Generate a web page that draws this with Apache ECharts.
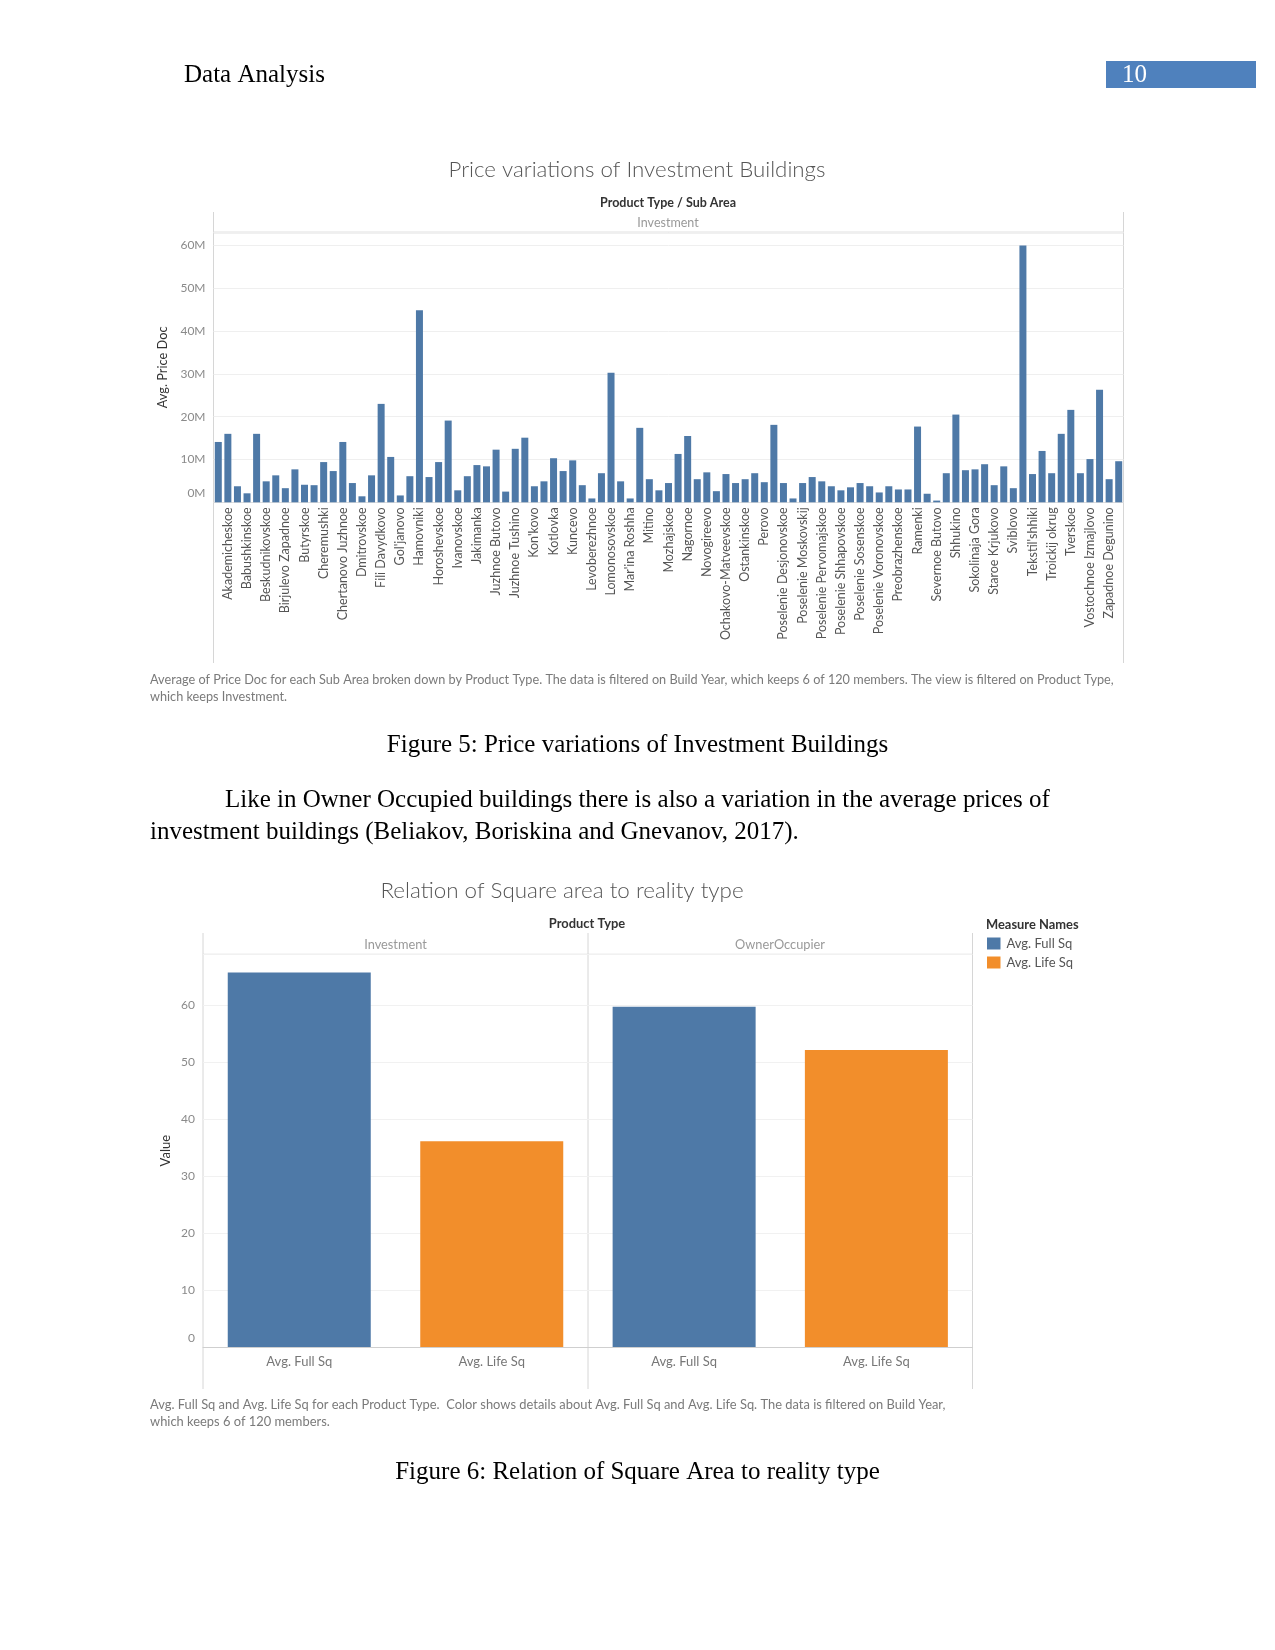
<!DOCTYPE html>
<html>
<head>
<meta charset="utf-8">
<script src="https://cdn.jsdelivr.net/npm/echarts@6/dist/echarts.min.js"></script>
<style>
html,body{margin:0;padding:0;background:#fff;}
#page{width:1275px;height:1650px;}
</style>
</head>
<body>
<div id="page"></div>
<script>
// ---------- Figure 5 data ----------
const subAreas = [
 "Ajeroport","Akademicheskoe","Alekseevskoe","Babushkinskoe","Basmannoe","Beskudnikovskoe","Bibirevo","Birjulevo Zapadnoe","Brateevo","Butyrskoe",
 "Caricyno","Cheremushki","Chertanovo Central'noe","Chertanovo Juzhnoe","Danilovskoe","Dmitrovskoe","Filevskij Park","Fili Davydkovo","Gagarinskoe","Gol'janovo",
 "Golovinskoe","Hamovniki","Horoshevo-Mnevniki","Horoshevskoe","Hovrino","Ivanovskoe","Izmajlovo","Jakimanka","Jasenevo","Juzhnoe Butovo",
 "Juzhnoe Medvedkovo","Juzhnoe Tushino","Kapotnja","Kon'kovo","Koptevo","Kotlovka","Krylatskoe","Kuncevo","Lefortovo","Levoberezhnoe",
 "Ljublino","Lomonosovskoe","Losinoostrovskoe","Mar'ina Roshha","Mar'ino","Mitino","Moskvorech'e-Saburovo","Mozhajskoe","Nagatinskij Zaton","Nagornoe",
 "Nekrasovka","Novogireevo","Obruchevskoe","Ochakovo-Matveevskoe","Orehovo-Borisovo Juzhnoe","Ostankinskoe","Otradnoe","Perovo","Pokrovskoe Streshnevo","Poselenie Desjonovskoe",
 "Poselenie Kokoshkino","Poselenie Moskovskij","Poselenie Novofedorovskoe","Poselenie Pervomajskoe","Poselenie Rjazanovskoe","Poselenie Shhapovskoe","Poselenie Shherbinka","Poselenie Sosenskoe","Poselenie Vnukovskoe","Poselenie Voronovskoe",
 "Poselenie Voskresenskoe","Preobrazhenskoe","Presnenskoe","Ramenki","Rjazanskij","Severnoe Butovo","Severnoe Izmajlovo","Shhukino","Sokol'niki","Sokolinaja Gora",
 "Solncevo","Staroe Krjukovo","Strogino","Sviblovo","Taganskoe","Tekstil'shhiki","Teplyj Stan","Troickij okrug","Troparevo-Nikulino","Tverskoe",
 "Veshnjaki","Vostochnoe Izmajlovo","Vyhino-Zhulebino","Zapadnoe Degunino","Zjablikovo"
];
// Avg. Price Doc, in millions
const avgPriceDocM = [
 14.1,16.0,3.75,2.1,16.0,4.9,6.3,3.3,7.7,4.1,
 4.0,9.4,7.3,14.1,4.5,1.4,6.3,23.0,10.6,1.6,
 6.1,44.9,5.9,9.4,19.1,2.8,6.1,8.7,8.4,12.3,
 2.5,12.5,15.1,3.75,4.9,10.3,7.3,9.8,4.0,0.9,
 6.8,30.3,4.9,0.9,17.4,5.4,2.8,4.5,11.3,15.5,
 5.4,7.0,2.6,6.6,4.5,5.4,6.8,4.7,18.1,4.5,
 0.9,4.5,5.9,4.9,3.75,2.8,3.5,4.5,3.75,2.3,
 3.75,3.0,3.0,17.7,2.0,0.4,6.8,20.5,7.5,7.7,
 8.9,4.0,8.4,3.3,60.0,6.6,12.0,6.8,16.0,21.6,
 6.8,10.1,26.3,5.4,9.6
];
const priceTicksM = [0,10,20,30,40,50,60];

// ---------- Figure 6 data ----------
const measureNames = ["Avg. Full Sq","Avg. Life Sq"];
const productTypes = ["Investment","OwnerOccupier"];
const investmentSq = [65.7, 36.1];
const ownerOccupierSq = [59.7, 52.1];
const measureColors = ["#4e79a7","#f28e2b"];

const chart = echarts.init(document.getElementById('page'), null, {renderer:'canvas', width:1275, height:1650});

const SANS = 'Lato, "Open Sans", sans-serif';
const SERIF = '"Liberation Serif", "Times New Roman", serif';

function txt(text, x, y, font, fill, align) {
  return {type:'text', silent:true, style:{text:text, x:x, y:y, font:font, fill:fill,
    textAlign:align||'left', align:align||'left', textVerticalAlign:'middle', verticalAlign:'middle'}};
}
function ln(x1,y1,x2,y2,color,w){
  return {type:'line', silent:true, shape:{x1:x1,y1:y1,x2:x2,y2:y2}, style:{stroke:color, lineWidth:w||1}};
}

const zeroRich = {
  z:{padding:[0,0,18,0], fontSize:12, color:'#8a8a8a', fontFamily:SANS},
  n:{fontSize:12, color:'#8a8a8a', fontFamily:SANS}
};

const graphics = [
  // page header
  txt('Data Analysis', 184, 75, '25px ' + SERIF, '#000'),
  {type:'rect', silent:true, shape:{x:1106, y:61, width:150, height:27}, style:{fill:'#4f81bd'}},
  txt('10', 1122, 75, '25px ' + SERIF, '#fff'),
  // figure 5 header
  txt('Price variations of Investment Buildings', 637, 170, '300 22.3px ' + SANS, '#555', 'center'),
  txt('Product Type / Sub Area', 668, 203, 'bold 12.5px ' + SANS, '#333', 'center'),
  txt('Investment', 668, 223, '12.5px ' + SANS, '#999', 'center'),
  ln(213.5, 212, 213.5, 663, '#d6d6d6'),
  ln(1123.5, 212, 1123.5, 663, '#d6d6d6'),
  ln(213.5, 232.5, 1123.5, 232.5, '#e2e2e2', 2),
  txt('Average of Price Doc for each Sub Area broken down by Product Type. The data is filtered on Build Year, which keeps 6 of 120 members. The view is filtered on Product Type,', 150, 680, '12.7px ' + SANS, '#7a7a7a'),
  txt('which keeps Investment.', 150, 697, '12.7px ' + SANS, '#7a7a7a'),
  txt('Figure 5: Price variations of Investment Buildings', 637.5, 745, '25px ' + SERIF, '#000', 'center'),
  txt('Like in Owner Occupied buildings there is also a variation in the average prices of', 225, 800, '25px ' + SERIF, '#000'),
  txt('investment buildings (Beliakov, Boriskina and Gnevanov, 2017).', 150, 832, '25px ' + SERIF, '#000'),
  // figure 6 header
  txt('Relation of Square area to reality type', 562, 891, '300 22.4px ' + SANS, '#555', 'center'),
  txt('Product Type', 587, 924, 'bold 12.9px ' + SANS, '#333', 'center'),
  txt(productTypes[0], 395.5, 944.5, '12.8px ' + SANS, '#999', 'center'),
  txt(productTypes[1], 780, 944.5, '12.8px ' + SANS, '#999', 'center'),
  ln(203, 933, 203, 1389, '#d6d6d6'),
  ln(588, 933, 588, 1389, '#d6d6d6'),
  ln(972.5, 933, 972.5, 1389, '#d6d6d6'),
  ln(203, 954.3, 972.5, 954.3, '#d6d6d6'),
  // legend
  txt('Measure Names', 986, 925, 'bold 12.9px ' + SANS, '#333'),
  {type:'rect', silent:true, shape:{x:987, y:937.5, width:13.5, height:12}, style:{fill:measureColors[0]}},
  {type:'rect', silent:true, shape:{x:987, y:956.5, width:13.5, height:12}, style:{fill:measureColors[1]}},
  txt(measureNames[0], 1006.5, 943.5, '13px ' + SANS, '#555'),
  txt(measureNames[1], 1006.5, 962.5, '13px ' + SANS, '#555'),
  txt('Avg. Full Sq and Avg. Life Sq for each Product Type.  Color shows details about Avg. Full Sq and Avg. Life Sq. The data is filtered on Build Year,', 150, 1404.5, '12.9px ' + SANS, '#7a7a7a'),
  txt('which keeps 6 of 120 members.', 150, 1422, '12.9px ' + SANS, '#7a7a7a'),
  txt('Figure 6: Relation of Square Area to reality type', 637.5, 1472, '25px ' + SERIF, '#000', 'center')
];

const option = {
  animation:false,
  backgroundColor:'#fff',
  grid:[
    {left:213.5, top:232.5, width:910, height:269.8},
    {left:203, top:954.3, width:385, height:392.7},
    {left:588, top:954.3, width:384.5, height:392.7}
  ],
  xAxis:[
    {type:'category', gridIndex:0, data:subAreas,
     axisLine:{show:true, lineStyle:{color:'#dedede'}}, axisTick:{show:false},
     axisLabel:{rotate:90, interval:function(i){return i % 2 === 1;}, fontSize:12.5, color:'#555', fontFamily:SANS, margin:5}},
    {type:'category', gridIndex:1, data:measureNames,
     axisLine:{show:true, lineStyle:{color:'#cfcfcf'}}, axisTick:{show:false},
     axisLabel:{fontSize:13, color:'#777', fontFamily:SANS, margin:8}},
    {type:'category', gridIndex:2, data:measureNames,
     axisLine:{show:true, lineStyle:{color:'#cfcfcf'}}, axisTick:{show:false},
     axisLabel:{fontSize:13, color:'#777', fontFamily:SANS, margin:8}}
  ],
  yAxis:[
    {type:'value', gridIndex:0, min:priceTicksM[0], max:63.05, interval:priceTicksM[1]-priceTicksM[0],
     name:'Avg. Price Doc', nameLocation:'middle', nameRotate:90, nameGap:41,
     nameTextStyle:{fontSize:12.8, color:'#333', fontFamily:SANS},
     axisLine:{show:false}, axisTick:{show:false},
     axisLabel:{showMaxLabel:false, margin:8, formatter:function(v){return v===0 ? '{z|0M}' : '{n|' + v + 'M}';}, rich:zeroRich},
     splitLine:{lineStyle:{color:'#efefef'}}},
    {type:'value', gridIndex:1, min:0, max:68.9, interval:10,
     name:'Value', nameLocation:'middle', nameRotate:90, nameGap:31,
     nameTextStyle:{fontSize:13, color:'#333', fontFamily:SANS},
     axisLine:{show:false}, axisTick:{show:false},
     axisLabel:{showMaxLabel:false, margin:8, formatter:function(v){return v===0 ? '{z|0}' : '{n|' + v + '}';}, rich:zeroRich},
     splitLine:{lineStyle:{color:'#f1f1f1'}}},
    {type:'value', gridIndex:2, min:0, max:68.9, interval:10,
     axisLine:{show:false}, axisTick:{show:false}, axisLabel:{show:false},
     splitLine:{lineStyle:{color:'#f1f1f1'}}}
  ],
  series:[
    {type:'bar', xAxisIndex:0, yAxisIndex:0, data:avgPriceDocM, barWidth:7, itemStyle:{color:'#4e79a7'}},
    {type:'bar', xAxisIndex:1, yAxisIndex:1, barWidth:143,
     data:investmentSq.map(function(v,i){return {value:v, itemStyle:{color:measureColors[i]}};})},
    {type:'bar', xAxisIndex:2, yAxisIndex:2, barWidth:143,
     data:ownerOccupierSq.map(function(v,i){return {value:v, itemStyle:{color:measureColors[i]}};})}
  ],
  graphic:graphics
};
chart.setOption(option);
</script>
</body>
</html>
